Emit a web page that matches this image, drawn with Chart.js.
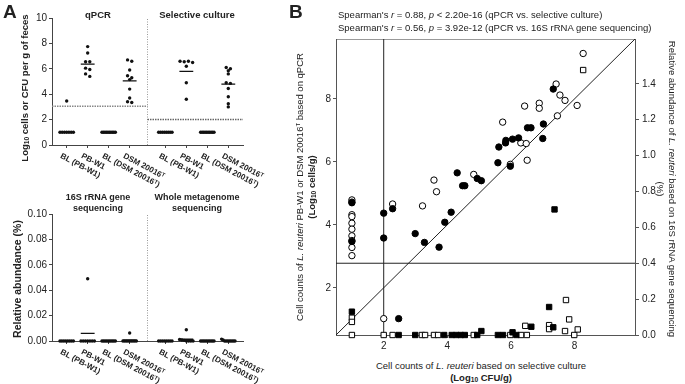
<!DOCTYPE html>
<html>
<head>
<meta charset="utf-8">
<script src="https://cdn.jsdelivr.net/npm/chart.js@4.4.1/dist/chart.umd.min.js"></script>
<style>
body{margin:0;background:#fff;}
#fig{position:relative;width:685px;height:384px;overflow:hidden;font-family:"Liberation Sans",Arial,sans-serif;color:#222;}
canvas{position:absolute;}
.t{position:absolute;white-space:nowrap;line-height:1.25;}
.c{transform:translate(-50%,-50%);text-align:center;}
.rl{transform:translate(-50%,-50%) rotate(-90deg);}
.rr{transform:translate(-50%,-50%) rotate(90deg);}
.b{font-weight:bold;}
sub{font-size:70%;vertical-align:-0.2em;line-height:0;}
sup{font-size:65%;vertical-align:0.5em;line-height:0;}
</style>
</head>
<body>
<div id="fig">
  <canvas id="chartA1" width="275" height="190" style="left:0;top:0"></canvas>
  <canvas id="chartA2" width="275" height="194" style="left:0;top:190px"></canvas>
  <canvas id="chartB" width="385" height="330" style="left:300px;top:30px"></canvas>

  <div class="t b" style="left:3px;top:0px;font-size:19px">A</div>
  <div class="t b" style="left:289px;top:0px;font-size:19px">B</div>

  <div class="t b c" style="left:98px;top:15px;font-size:9.5px">qPCR</div>
  <div class="t b c" style="left:197px;top:15px;font-size:9.5px">Selective culture</div>
  <div class="t b c" style="left:98px;top:203px;font-size:9px">16S rRNA gene<br>sequencing</div>
  <div class="t b c" style="left:197px;top:203px;font-size:9px">Whole metagenome<br>sequencing</div>

  <div class="t b rl" style="left:25px;top:88px;font-size:9.5px">Log<sub>10</sub> cells or CFU per g of feces</div>
  <div class="t b rl" style="left:18px;top:279px;font-size:10.5px">Relative abundance (%)</div>

  <div class="t" style="left:338px;top:9px;font-size:9.5px">Spearman's <i>r</i> = 0.88, <i>p</i> &lt; 2.20e-16 (qPCR vs. selective culture)</div>
  <div class="t" style="left:338px;top:22px;font-size:9.5px">Spearman's <i>r</i> = 0.56, <i>p</i> = 3.92e-12 (qPCR vs. 16S rRNA gene sequencing)</div>

  <div class="t c" style="left:481px;top:366px;font-size:9.5px">Cell counts of <i>L. reuteri</i> based on selective culture</div>
  <div class="t b c" style="left:481px;top:378px;font-size:9.5px">(Log<sub>10</sub> CFU/g)</div>

  <div class="t rl" style="left:300px;top:187px;font-size:9.5px">Cell counts of <i>L. reuteri</i> PB-W1 or DSM 20016<sup>T</sup> based on qPCR</div>
  <div class="t b rl" style="left:312px;top:187px;font-size:9.5px">(Log<sub>10</sub> cells/g)</div>

  <div class="t rr" style="left:672px;top:189px;font-size:9.5px">Relative abundance of <i>L. reuteri</i> based on 16S rRNA gene sequencing</div>
  <div class="t rr" style="left:660px;top:189px;font-size:9.5px">(%)</div>
</div>

<script>
// ---------- Panel A: dot plots ----------
const groupLabels = ['BL (PB-W1)', 'PB-W1', 'BL (DSM 20016ᵀ)', 'DSM 20016ᵀ'];
const countTicks = [0, 2, 4, 6, 8, 10];
const abundTicks = [0, 0.02, 0.04, 0.06, 0.08, 0.10];

// qPCR (log10 cells/g)
const qpcrBlPb  = [3.47, 1, 1, 1, 1, 1, 1, 1];
const qpcrPb    = [7.75, 7.25, 6.55, 6.55, 6.05, 5.95, 5.6, 5.4];
const qpcrBlDsm = [1, 1, 1, 1, 1, 1, 1, 1, 1, 1];
const qpcrDsm   = [6.7, 6.6, 5.9, 5.45, 5.3, 5.15, 4.4, 3.7, 3.4, 3.35];
const qpcrMeans = [1, 6.37, 1, 5.05];
const qpcrLimit = 3.05;

// selective culture (log10 CFU/g)
const cultBlPb  = [1, 1, 1, 1, 1, 1, 1, 1];
const cultPb    = [6.6, 6.55, 6.6, 6.5, 6.2, 4.9, 3.6];
const cultBlDsm = [1, 1, 1, 1, 1, 1, 1, 1, 1, 1];
const cultDsm   = [6.1, 6.0, 5.85, 5.6, 4.9, 4.85, 4.45, 3.8, 3.25, 3.0];
const cultMeans = [1, 5.8, 1, 4.79];
const cultLimit = 2;

// 16S rRNA gene sequencing (relative abundance %)
const s16BlPb  = [0, 0, 0, 0, 0, 0, 0, 0];
const s16Pb    = [0.049, 0, 0, 0, 0, 0, 0, 0];
const s16BlDsm = [0, 0, 0, 0, 0, 0, 0, 0, 0, 0];
const s16Dsm   = [0.0063, 0, 0, 0, 0, 0, 0, 0, 0, 0];
const s16Means = [0, 0.006, 0, 0.0006];

// whole metagenome sequencing (relative abundance %)
const wmsBlPb  = [0, 0, 0, 0, 0, 0, 0, 0];
const wmsPb    = [0.0088, 0.0012, 0.0008, 0.0005, 0, 0, 0, 0];
const wmsBlDsm = [0, 0, 0, 0, 0, 0, 0, 0, 0, 0];
const wmsDsm   = [0.0015, 0.0008, 0, 0, 0, 0, 0, 0, 0, 0];
const wmsMeans = [0, 0.0014, 0, 0.0002];

// ---------- Panel B: method comparison ----------
const pbCulture = [1.0, 1.0, 2.0, 2.0, 2.47, 2.28, 2.99, 3.28, 3.74, 3.92, 4.12, 4.48, 4.55, 4.31, 4.94, 5.07, 5.59, 5.98, 5.62, 5.83, 5.84, 6.05, 6.24, 7.0, 6.52, 6.63, 7.02, 7.33];
const pbQpcr    = [4.70, 3.47, 4.37, 3.58, 1.02, 4.51, 3.72, 3.44, 3.29, 4.08, 4.40, 5.24, 5.24, 5.65, 5.47, 5.40, 5.97, 5.86, 6.47, 6.60, 6.68, 6.72, 6.76, 6.74, 7.08, 7.08, 7.20, 8.31];
const dsmCulture = [1, 1, 1, 1, 1, 1, 1, 1, 1, 1, 2.0, 2.28, 3.22, 3.66, 3.58, 4.83, 5.98, 6.51, 6.31, 6.48, 5.74, 6.43, 6.89, 6.89, 7.46, 7.70, 7.54, 8.08, 7.42, 8.27];
const dsmQpcr    = [4.79, 4.72, 4.32, 4.26, 4.05, 3.86, 3.65, 3.50, 3.28, 3.02, 1.02, 4.66, 4.60, 5.05, 5.42, 5.60, 5.92, 6.05, 6.60, 6.58, 7.26, 7.77, 7.86, 7.70, 7.46, 7.95, 8.12, 7.79, 8.47, 9.44];
const pb16sCulture  = [1.0, 2.47, 2.99, 3.9, 4.14, 4.28, 4.42, 4.55, 4.94, 5.07, 5.59, 5.75, 6.05, 6.17, 6.64, 7.2, 7.33, 7.37];
const pb16s         = [0.13, 0, 0, 0, 0, 0, 0, 0, 0, 0.022, 0, 0, 0.015, 0, 0.046, 0.156, 0.043, 0.70];
const dsm16sCulture = [1.0, 1.0, 1.0, 2.0, 2.28, 3.2, 3.3, 3.58, 3.71, 4.83, 5.98, 6.32, 6.5, 6.45, 7.2, 7.2, 7.73, 7.83, 7.7, 7.99, 8.1, 8.27];
const dsm16s        = [0.096, 0.073, 0, 0, 0, 0, 0, 0, 0, 0, 0, 0, 0, 0.051, 0.055, 0.033, 0.195, 0.087, 0.022, 0, 0.031, 1.477];
const bTicks  = [2, 4, 6, 8];
const b2Ticks = [0, 0.2, 0.4, 0.6, 0.8, 1.0, 1.2, 1.4];
const qpcrCut = 2;     // vertical reference line (culture)
const s16Cut  = 0.4;   // horizontal reference line (16S)

const FONT = '"Liberation Sans", Arial, sans-serif';
const INK = '#222';

// x position of group i in block b (two blocks of four)
function groupPos(b, i) { return b === 0 ? i + 1 : i + 5.7; }
const SEP = 4.85;

// put nearly equal values side by side like the original dot plot
function swarm(values, center, tol, step, maxHalf) {
  const used = values.map(() => false);
  const pts = [];
  values.forEach((v, i) => {
    if (used[i]) return;
    const grp = [];
    values.forEach((w, j) => {
      if (!used[j] && Math.abs(w - v) <= tol) { used[j] = true; grp.push(w); }
    });
    const s = grp.length > 1 ? Math.min(step, 2 * maxHalf / (grp.length - 1)) : 0;
    grp.forEach((w, k) => pts.push({ x: center + (k - (grp.length - 1) / 2) * s, y: w }));
  });
  return pts;
}

function meanSegments(blocks) {
  const out = [];
  blocks.forEach((means, b) => {
    means.forEach((m, i) => {
      const c = groupPos(b, i);
      out.push({ x: c - 0.33, y: m }, { x: c + 0.33, y: m }, { x: c, y: null });
    });
  });
  return out;
}

function rotatedLabels(positions, texts) {
  return {
    id: 'rotatedLabels',
    afterDraw(chart) {
      const sx = chart.scales.x, ctx = chart.ctx;
      ctx.save();
      ctx.font = 'bold 8px ' + FONT;
      ctx.fillStyle = INK;
      ctx.textAlign = 'left';
      ctx.textBaseline = 'top';
      positions.forEach((p, i) => {
        ctx.save();
        ctx.translate(sx.getPixelForValue(p) - 4, sx.top + 7);
        ctx.rotate(28 * Math.PI / 180);
        ctx.fillText(texts[i], 0, 0);
        ctx.restore();
      });
      ctx.restore();
    }
  };
}

function lineSet(data, color, width, dash, yAxisID) {
  return {
    type: 'scatter', data: data, showLine: true, fill: false,
    borderColor: color, borderWidth: width, borderDash: dash || [],
    pointRadius: 0, yAxisID: yAxisID || 'y', spanGaps: false
  };
}

function dotPanel(id, groups, means, limits, yTicks, yMax, tickFont, fmt, padTop, xHeight, tol) {
  const pts = [];
  const positions = [];
  const texts = [];
  groups.forEach((block, b) => {
    block.forEach((vals, i) => {
      const c = groupPos(b, i);
      positions.push(c);
      texts.push(groupLabels[i]);
      swarm(vals, c, tol, 0.2, 0.32).forEach(p => pts.push(p));
    });
  });
  const datasets = [
    { type: 'scatter', data: pts, pointRadius: 1.7, pointBackgroundColor: '#111', pointBorderWidth: 0, clip: false },
    lineSet(meanSegments(means), '#111', 1.4)
  ];
  if (limits) {
    datasets.push(lineSet([{ x: 0.3, y: limits[0] }, { x: SEP, y: limits[0] }], '#888', 1.5, [1.5, 1]));
    datasets.push(lineSet([{ x: SEP, y: limits[1] }, { x: 9.4, y: limits[1] }], '#666', 1.5, [1.5, 1]));
  }
  datasets.push(lineSet([{ x: SEP, y: 0 }, { x: SEP, y: yMax }], '#999', 1, [1, 1.5]));

  return new Chart(document.getElementById(id), {
    type: 'scatter',
    data: { datasets: datasets },
    options: {
      responsive: false, animation: false, events: [],
      layout: { padding: { top: padTop, right: 32, left: 0, bottom: 0 } },
      plugins: { legend: { display: false }, tooltip: { enabled: false } },
      scales: {
        x: {
          type: 'linear', min: 0.3, max: 9.4,
          afterBuildTicks: s => { s.ticks = positions.map(v => ({ value: v })); },
          afterFit: s => { s.height = xHeight; },
          ticks: { display: false },
          grid: { drawOnChartArea: false, tickLength: 3, color: '#444' },
          border: { color: '#444' }
        },
        y: {
          min: 0, max: yMax,
          afterBuildTicks: s => { s.ticks = yTicks.map(v => ({ value: v })); },
          afterFit: s => { s.width = 52; },
          ticks: { font: { family: FONT, size: tickFont }, color: INK, padding: 2, callback: fmt },
          grid: { drawOnChartArea: false, tickLength: 3, color: '#444' },
          border: { color: '#444' }
        }
      }
    },
    plugins: [rotatedLabels(positions, texts)]
  });
}

dotPanel('chartA1',
  [[qpcrBlPb, qpcrPb, qpcrBlDsm, qpcrDsm], [cultBlPb, cultPb, cultBlDsm, cultDsm]],
  [qpcrMeans, cultMeans], [qpcrLimit, cultLimit],
  countTicks, 10, 10, v => String(v), 18, 45, 0.22);

dotPanel('chartA2',
  [[s16BlPb, s16Pb, s16BlDsm, s16Dsm], [wmsBlPb, wmsPb, wmsBlDsm, wmsDsm]],
  [s16Means, wmsMeans], null,
  abundTicks, 0.10, 10, v => v.toFixed(2), 24, 43, 0.0015);

// ---------- Panel B chart ----------
function xy(xs, ys) { return xs.map((x, i) => ({ x: x, y: ys[i] })); }

new Chart(document.getElementById('chartB'), {
  type: 'scatter',
  data: {
    datasets: [
      { data: xy(pbCulture, pbQpcr), yAxisID: 'y', pointStyle: 'circle', pointRadius: 3.2,
        pointBackgroundColor: '#000', pointBorderColor: '#000', pointBorderWidth: 1, clip: false },
      { data: xy(dsmCulture, dsmQpcr), yAxisID: 'y', pointStyle: 'circle', pointRadius: 3.2,
        pointBackgroundColor: '#fff', pointBorderColor: '#000', pointBorderWidth: 1, clip: false },
      { data: xy(pb16sCulture, pb16s), yAxisID: 'y2', pointStyle: 'rect', pointRadius: 3.8,
        pointBackgroundColor: '#000', pointBorderColor: '#000', pointBorderWidth: 1, clip: false },
      { data: xy(dsm16sCulture, dsm16s), yAxisID: 'y2', pointStyle: 'rect', pointRadius: 3.8,
        pointBackgroundColor: '#fff', pointBorderColor: '#000', pointBorderWidth: 1, clip: false },
      lineSet([{ x: 0.5, y: 0.5 }, { x: 9.9, y: 9.9 }], INK, 1),
      lineSet([{ x: qpcrCut, y: 0.5 }, { x: qpcrCut, y: 9.9 }], INK, 1),
      lineSet([{ x: 0.5, y: s16Cut }, { x: 9.9, y: s16Cut }], INK, 1, null, 'y2')
    ]
  },
  options: {
    responsive: false, animation: false, events: [],
    layout: { padding: { top: 6, right: 0, left: 0, bottom: 0 } },
    plugins: { legend: { display: false }, tooltip: { enabled: false } },
    scales: {
      x: {
        type: 'linear', min: 0.5, max: 9.9,
        afterBuildTicks: s => { s.ticks = bTicks.map(v => ({ value: v })); },
        afterFit: s => { s.height = 25; },
        ticks: { font: { family: FONT, size: 10 }, color: INK, padding: 2, maxRotation: 0 },
        grid: { drawOnChartArea: false, tickLength: 3, color: '#555' },
        border: { color: '#555' }
      },
      xTop: {
        type: 'linear', position: 'top', min: 0.5, max: 9.9,
        afterFit: s => { s.height = 0; },
        ticks: { display: false },
        grid: { display: false },
        border: { display: true, color: '#999' }
      },
      y: {
        position: 'left', min: 0.5, max: 9.9,
        afterBuildTicks: s => { s.ticks = bTicks.map(v => ({ value: v })); },
        afterFit: s => { s.width = 36; },
        ticks: { font: { family: FONT, size: 10 }, color: INK, padding: 2 },
        grid: { drawOnChartArea: false, tickLength: 3, color: '#555' },
        border: { color: '#555' }
      },
      y2: {
        position: 'right', min: 0, max: 1.65,
        afterBuildTicks: s => { s.ticks = b2Ticks.map(v => ({ value: v })); },
        afterFit: s => { s.width = 50; },
        ticks: { font: { family: FONT, size: 10 }, color: INK, padding: 3, callback: v => v.toFixed(1) },
        grid: { drawOnChartArea: false, tickLength: 4, color: '#555' },
        border: { color: '#555' }
      }
    }
  }
});
</script>
</body>
</html>
